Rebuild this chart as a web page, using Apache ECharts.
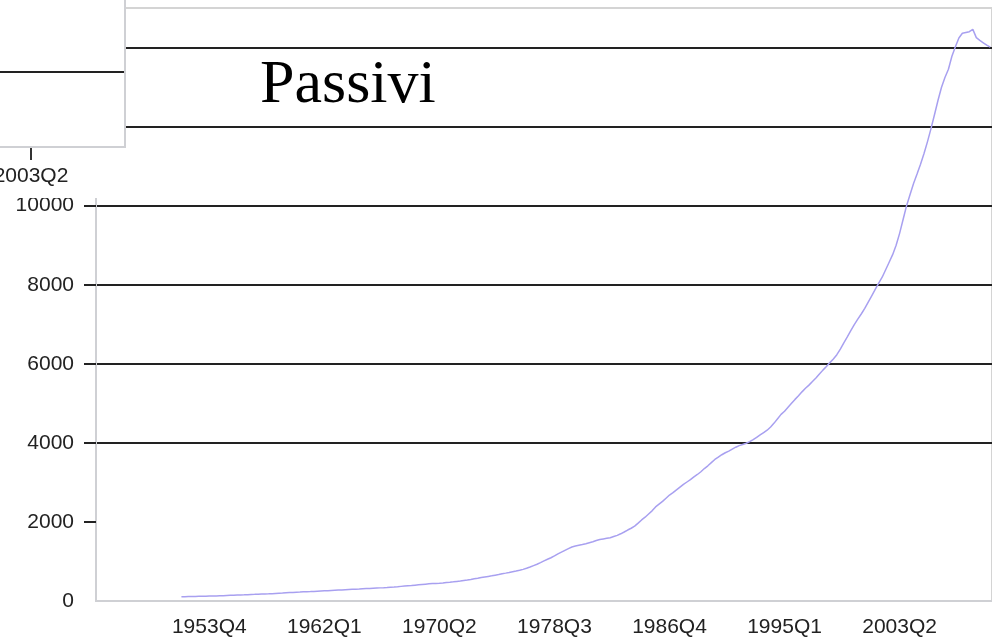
<!DOCTYPE html>
<html>
<head>
<meta charset="utf-8">
<script src="https://cdn.jsdelivr.net/npm/echarts@6/dist/echarts.min.js"></script>
<style>
  html, body { margin: 0; padding: 0; background: #fff; }
  #chart { width: 992px; height: 641px; }
</style>
</head>
<body>
<div id="chart"></div>
<script>
// axis runs 1945Q4 .. 2009Q4, values only from 1951Q4 on
var axisStart = [1945, 4];
var axisEnd = [2009, 4];
var dataStart = '1951Q4';
var tickLabels = ['1953Q4', '1962Q1', '1970Q2', '1978Q3', '1986Q4', '1995Q1', '2003Q2'];
var yTicks = [2000, 4000, 6000, 8000, 10000, 12000, 14000];
var yLabels = [0, 2000, 4000, 6000, 8000, 10000, 12000, 14000];

// Passivi (miliardi), trimestrale 1951Q4 - 2009Q4
var passivi = [
  108,
  110, 112, 114, 116,
  118, 120, 123, 125,
  127, 129, 132, 135,
  139, 143, 147, 151,
  154, 157, 161, 165,
  168, 172, 176, 180,
  182, 185, 190, 195,
  200, 206, 212, 218,
  222, 226, 231, 236,
  239, 243, 248, 253,
  257, 261, 266, 271,
  276, 281, 286, 291,
  295, 299, 304, 310,
  314, 318, 323, 328,
  332, 337, 343, 350,
  355, 362, 370, 378,
  385, 392, 401, 410,
  418, 426, 434, 440,
  444, 449, 456, 465,
  474, 484, 495, 506,
  518, 530, 544, 560,
  575, 592, 608, 622,
  636, 652, 668, 690,
  705, 722, 740, 758,
  778, 800, 828, 860,
  895, 930, 972, 1015,
  1055, 1095, 1140, 1190,
  1235, 1280, 1325, 1365,
  1390, 1410, 1428, 1450,
  1475, 1500, 1530, 1555,
  1570, 1585, 1600, 1630,
  1660, 1700, 1745, 1795,
  1840, 1895, 1970, 2050,
  2120, 2200, 2280, 2380,
  2450, 2520, 2600, 2680,
  2740, 2810, 2880, 2950,
  3010, 3070, 3140, 3200,
  3270, 3350, 3420, 3500,
  3580, 3640, 3700, 3750,
  3790, 3840, 3890, 3930,
  3960, 3990, 4030, 4080,
  4140, 4200, 4260, 4320,
  4400, 4500, 4610, 4720,
  4800, 4900, 5000, 5100,
  5190, 5290, 5380, 5460,
  5550, 5640, 5740, 5840,
  5930, 6030, 6120, 6230,
  6370, 6530, 6680, 6840,
  6990, 7130, 7260, 7400,
  7560, 7720, 7880, 8040,
  8190, 8380, 8570, 8760,
  9000, 9300, 9650, 10000,
  10280, 10560, 10800, 11050,
  11320, 11620, 11950, 12300,
  12660, 12990, 13240, 13450,
  13780, 14020, 14240, 14360,
  14380, 14400, 14460, 14250,
  14180, 14120, 14060, 14010
];

var quarters = [];
for (var y = axisStart[0], q = axisStart[1]; y < axisEnd[0] || (y === axisEnd[0] && q <= axisEnd[1]);) {
  quarters.push(y + 'Q' + q);
  q++;
  if (q > 4) { q = 1; y++; }
}
var offset = quarters.indexOf(dataStart);
var seriesData = quarters.map(function (c, i) {
  return i < offset ? null : passivi[i - offset];
});

function showTick(idx) {
  return tickLabels.indexOf(quarters[idx]) >= 0;
}

var myChart = echarts.init(document.getElementById('chart'));
var option = {
  animation: false,
  title: {
    text: 'Passivi',
    left: 260,
    top: 55,
    padding: 0,
    textStyle: {
      fontFamily: 'Liberation Serif, Times New Roman, serif',
      fontWeight: 'normal',
      fontSize: 62,
      color: '#000'
    }
  },
  grid: {
    left: 96,
    right: 0,
    top: 8,
    bottom: 40,
    show: true,
    borderColor: '#d4d4d4',
    borderWidth: 2
  },
  xAxis: {
    type: 'category',
    data: quarters,
    boundaryGap: true,
    axisLine: { lineStyle: { color: '#cfd0d4', width: 2 } },
    axisTick: {
      interval: showTick,
      alignWithLabel: true,
      length: 12,
      lineStyle: { color: '#333', width: 2 }
    },
    axisLabel: {
      interval: showTick,
      margin: 16,
      fontSize: 21,
      fontFamily: 'Liberation Sans, Arial, sans-serif',
      color: '#222'
    },
    splitLine: { show: false }
  },
  yAxis: {
    type: 'value',
    min: 0,
    max: 15000,
    interval: 2000,
    axisLine: { show: true, lineStyle: { color: '#cfd0d4', width: 2 } },
    axisTick: {
      show: true,
      length: 12,
      customValues: yTicks,
      lineStyle: { color: '#222', width: 2 }
    },
    axisLabel: {
      customValues: yLabels,
      formatter: function (v) { return String(v); },
      margin: 22,
      fontSize: 21,
      fontFamily: 'Liberation Sans, Arial, sans-serif',
      color: '#222'
    },
    splitLine: {
      show: true,
      showMinLine: false,
      lineStyle: { color: '#222', width: 2 }
    }
  },
  series: [{
    name: 'Passivi',
    type: 'line',
    data: seriesData,
    showSymbol: false,
    connectNulls: false,
    lineStyle: { color: '#a8a0f0', width: 1.5 },
    itemStyle: { color: '#a8a0f0' },
    z: 3
  }],
  // pezzo di un altro grafico sovrapposto in alto a sinistra
  graphic: [
    { type: 'rect', z: 100, shape: { x: -2, y: -2, width: 127, height: 200 }, style: { fill: '#fff' } },
    { type: 'rect', z: 101, shape: { x: -2, y: -2, width: 127, height: 149 }, style: { fill: '#fff', stroke: '#cfd0d4', lineWidth: 2 } },
    { type: 'line', z: 102, shape: { x1: 0, y1: 72, x2: 124, y2: 72 }, style: { stroke: '#222', lineWidth: 2 } },
    { type: 'line', z: 102, shape: { x1: 31, y1: 148, x2: 31, y2: 160 }, style: { stroke: '#333', lineWidth: 2 } },
    {
      type: 'text', z: 102, x: 31, y: 176,
      style: {
        text: tickLabels[tickLabels.length - 1],
        align: 'center', verticalAlign: 'middle',
        font: '21px "Liberation Sans", Arial, sans-serif',
        fill: '#222'
      }
    }
  ]
};
myChart.setOption(option, true);
window.addEventListener('resize', function () { myChart.resize(); });
</script>
</body>
</html>
